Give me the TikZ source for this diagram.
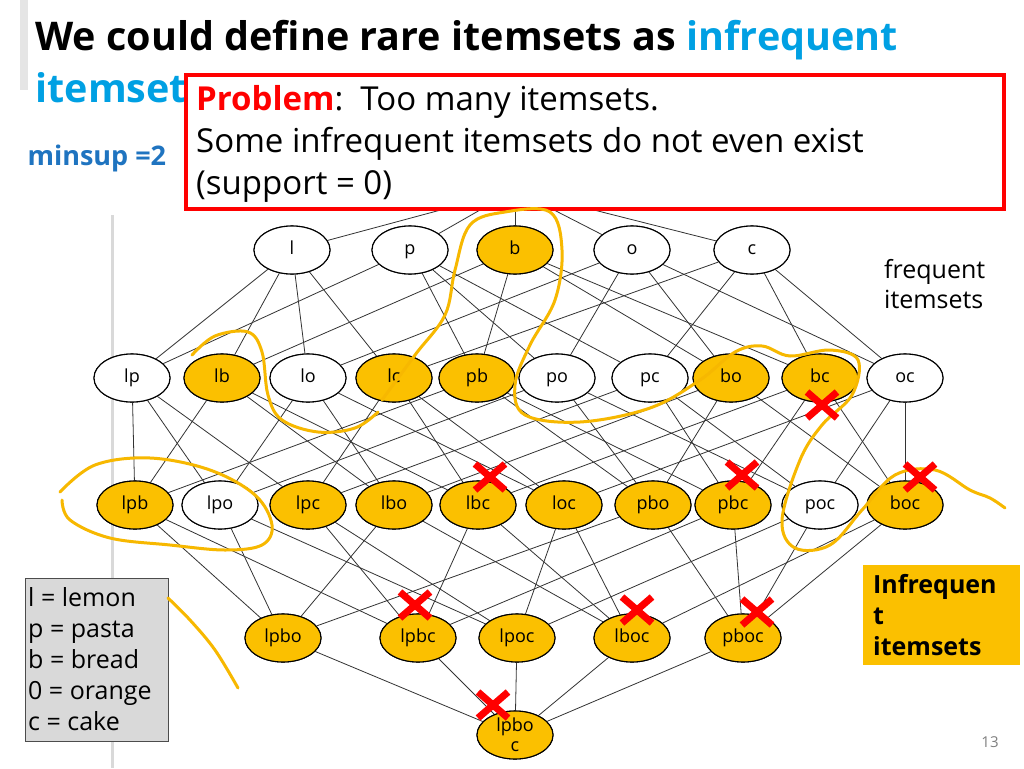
\documentclass[tikz,border=0pt]{standalone}
\usepackage{fontspec}
\setmainfont{Open Sans}
\usetikzlibrary{shapes.geometric}
\begin{document}
\begin{tikzpicture}[x=1pt,y=-1pt,
 it/.style={ellipse,draw=black,line width=1.1pt,minimum width=76pt,minimum height=48pt,inner sep=0pt,font=\fontsize{18}{18}\selectfont,text height=13pt,text depth=4pt,fill=white},
 fr/.style={it,fill=white},
 inf/.style={it,fill=orgf},
 e/.style={draw=black!80,line width=0.8pt},
 hl/.style={draw=hly,line width=3pt,line cap=round,line join=round},
 xx/.style={draw=red,line width=7pt}]
\definecolor{orgf}{HTML}{FBC000}
\definecolor{hly}{HTML}{F7B800}
\definecolor{ttl}{HTML}{00A0E3}
\definecolor{ms}{HTML}{1F74C0}
\useasboundingbox (0,0) rectangle (1024,768);
\fill[white] (0,0) rectangle (1024,768);
\draw[black!15,line width=3pt] (112,215) -- (112,768);
\draw[black!10,line width=8pt] (24,0) -- (24,90);
% nodes
\coordinate (top) at (515,190);
\node[fr] (l) at (292,250) {l};
\node[fr] (p) at (410,250) {p};
\node[inf] (b) at (515,250) {b};
\node[fr] (o) at (632,250) {o};
\node[fr] (c) at (752,250) {c};
\node[fr] (lp) at (132,378) {lp};
\node[inf] (lb) at (222,378) {lb};
\node[fr] (lo) at (308,378) {lo};
\node[inf] (lc) at (394,378) {lc};
\node[inf] (pb) at (477,378) {pb};
\node[fr] (po) at (557,378) {po};
\node[fr] (pc) at (650,378) {pc};
\node[inf] (bo) at (731,378) {bo};
\node[inf] (bc) at (820,378) {bc};
\node[fr] (oc) at (905,378) {oc};
\node[inf] (lpb) at (135,505) {lpb};
\node[fr] (lpo) at (220,505) {lpo};
\node[inf] (lpc) at (308,505) {lpc};
\node[inf] (lbo) at (394,505) {lbo};
\node[inf] (lbc) at (478,505) {lbc};
\node[inf] (loc) at (564,505) {loc};
\node[inf] (pbo) at (653,505) {pbo};
\node[inf] (pbc) at (733,505) {pbc};
\node[fr] (poc) at (820,505) {poc};
\node[inf] (boc) at (905,505) {boc};
\node[inf] (lpbo) at (283,638) {lpbo};
\node[inf] (lpbc) at (418,638) {lpbc};
\node[inf] (lpoc) at (517,638) {lpoc};
\node[inf] (lboc) at (632,638) {lboc};
\node[inf] (pboc) at (743,638) {pboc};
\node[inf,align=center,font=\fontsize{18}{20}\selectfont,text height=,text depth=] (lpboc) at (515,735) {lpbo\\c};
% edges
\foreach \a in {l,p,b,o,c} \draw[e] (top) -- (\a);
\foreach \s/\a/\b in {lp/l/p,lb/l/b,lo/l/o,lc/l/c,pb/p/b,po/p/o,pc/p/c,bo/b/o,bc/b/c,oc/o/c}
 {\draw[e] (\a) -- (\s); \draw[e] (\b) -- (\s);}
\foreach \s/\a/\b/\c in {lpb/lp/lb/pb,lpo/lp/lo/po,lpc/lp/lc/pc,lbo/lb/lo/bo,lbc/lb/lc/bc,loc/lo/lc/oc,pbo/pb/po/bo,pbc/pb/pc/bc,poc/po/pc/oc,boc/bo/bc/oc}
 {\draw[e] (\a) -- (\s); \draw[e] (\b) -- (\s); \draw[e] (\c) -- (\s);}
\foreach \s/\a/\b/\c/\d in {lpbo/lpb/lpo/lbo/pbo,lpbc/lpb/lpc/lbc/pbc,lpoc/lpo/lpc/loc/poc,lboc/lbo/lbc/loc/boc,pboc/pbo/pbc/poc/boc}
 {\draw[e] (\a) -- (\s); \draw[e] (\b) -- (\s); \draw[e] (\c) -- (\s); \draw[e] (\d) -- (\s);}
\foreach \a in {lpbo,lpbc,lpoc,lboc,pboc} \draw[e] (\a) -- (lpboc);
% redraw nodes on top of edges
\foreach \n/\s in {l/fr,p/fr,b/inf,o/fr,c/fr,lp/fr,lb/inf,lo/fr,lc/inf,pb/inf,po/fr,pc/fr,bo/inf,bc/inf,oc/fr,lpb/inf,lpo/fr,lpc/inf,lbo/inf,lbc/inf,loc/inf,pbo/inf,pbc/inf,poc/fr,boc/inf,lpbo/inf,lpbc/inf,lpoc/inf,lboc/inf,pboc/inf}
 \node[\s] at (\n) {\n};
\node[inf,align=center,font=\fontsize{18}{20}\selectfont,text height=,text depth=] at (lpboc) {lpbo\\c};
% title
\node[anchor=west,font=\bfseries\fontsize{39.5}{40}\selectfont] (t1) at (32,40) {We could define rare itemsets as \textcolor{ttl}{infrequent}};
\node[anchor=west,font=\bfseries\fontsize{39.5}{40}\selectfont,text=ttl] (t2) at (32,88) {itemsets};
\node[anchor=west,font=\bfseries\fontsize{27}{27}\selectfont,text=ms] (ms) at (24,158) {minsup =2};
% problem box
\node[draw=red,line width=4pt,fill=white,anchor=north west,minimum width=818pt,minimum height=134pt,inner sep=0pt] (box) at (184,73) {};
\node[anchor=north west,align=left,font=\fontsize{33}{42}\selectfont,inner sep=0pt] (ptx) at (196,85)
 {\textcolor{red}{\bfseries Problem}:\ \ Too many itemsets.\\ Some infrequent itemsets do not even exist\\ (support = 0)};
% right labels
\node[anchor=north west,align=left,font=\fontsize{25}{30}\selectfont,inner sep=0pt] (fq) at (884,259) {frequent\\itemsets};
\node[fill=orgf,anchor=north west,minimum width=157pt,minimum height=100pt,inner sep=0pt] (ibox) at (863,565) {};
\node[anchor=north west,align=left,font=\bfseries\fontsize{25}{31}\selectfont,inner sep=0pt] (itx) at (873,574) {Infrequen\\t\\itemsets};
% legend
\node[draw=black!70,fill=black!15,anchor=north west,minimum width=143pt,minimum height=163pt,inner sep=0pt] (leg) at (25,578) {};
\node[anchor=north west,align=left,font=\fontsize{25}{31}\selectfont,inner sep=0pt] (ltx) at (28,587) {l = lemon\\p = pasta\\b = bread\\0 = orange\\c = cake};
\node[text=black!50,font=\fontsize{15}{15}\selectfont] (pg) at (990,742) {13};
% yellow highlights
\draw[hl] plot[smooth,tension=0.6] coordinates {(382,400) (415,355) (445,315) (455,270) (470,225) (505,212) (550,212) (562,250) (555,300) (530,345) (515,385) (525,415) (580,422) (650,408) (700,380) (735,352) (762,346) (790,356) (830,350) (858,360) (852,395) (822,425) (800,460) (782,520) (795,548) (830,545) (862,510) (895,475) (935,470) (970,490) (990,498) (1005,508)};
\draw[hl] plot[smooth,tension=0.6] coordinates {(192,355) (215,336) (248,332) (262,352) (268,395) (282,420) (318,432) (355,428) (378,412)};
\draw[hl] plot[smooth,tension=0.6] coordinates {(60,492) (95,465) (150,458) (210,470) (255,495) (272,525) (262,545) (225,550) (170,545) (110,538) (70,520) (62,500)};
\draw[hl] plot[smooth,tension=0.6] coordinates {(168,598) (190,620) (215,650) (238,688)};
% red crosses
\foreach \x/\y in {822/405,490/477,742/475,920/477,415/605,637/610,757/612,493/705}
 {\draw[xx] (\x-15,\y-13) -- (\x+15,\y+13); \draw[xx] (\x-15,\y+13) -- (\x+15,\y-13);}
\end{tikzpicture}
\end{document}
